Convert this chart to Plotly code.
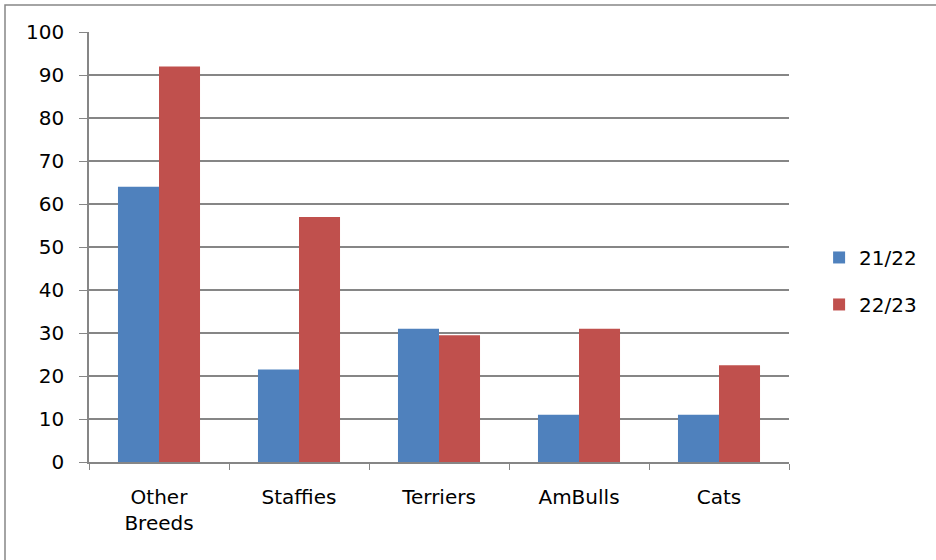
import plotly.graph_objects as go

categories = ['Other<br>Breeds', 'Staffies', 'Terriers', 'AmBulls', 'Cats']
season_2122 = [64, 21.5, 31, 11, 11]
season_2223 = [92, 57, 29.5, 31, 22.5]
y_ticks = list(range(0, 101, 10))

BLUE = '#4F81BD'
RED = '#C0504D'
GREY = '#868686'
FONT = 'DejaVu Sans, Verdana, sans-serif'

fig = go.Figure()

fig.add_trace(go.Bar(
    x=categories,
    y=season_2122,
    name='21/22',
    legendgroup='a',
    marker=dict(color=BLUE, line=dict(width=0))
))

fig.add_trace(go.Bar(
    x=categories,
    y=season_2223,
    name='22/23',
    legendgroup='b',
    marker=dict(color=RED, line=dict(width=0))
))

# outer chart frame (only left/top edges are in view)
fig.add_shape(
    type='rect', xref='paper', yref='paper',
    x0=-0.12, x1=2, y0=-2, y1=1.063,
    line=dict(color=GREY, width=1.5), layer='below'
)

fig.update_layout(
    width=936,
    height=560,
    margin=dict(l=89, r=147, t=32, b=98),
    paper_bgcolor='white',
    plot_bgcolor='white',
    barmode='group',
    bargap=0.414,
    bargroupgap=0,
    font=dict(family=FONT, size=20, color='#000000'),
    legend=dict(
        x=1.043, xanchor='left',
        y=0.421, yanchor='middle',
        traceorder='grouped',
        tracegroupgap=18,
        font=dict(size=20),
        bgcolor='rgba(0,0,0,0)'
    ),
    xaxis=dict(
        showline=True, linecolor=GREY, linewidth=1.5,
        ticks='outside', tickson='boundaries', ticklen=6, tickcolor=GREY,
        ticklabelstandoff=16,
        showgrid=False
    ),
    yaxis=dict(
        range=[0, 100],
        tickvals=y_ticks,
        showline=True, linecolor=GREY, linewidth=1.5,
        ticks='outside', ticklen=8, tickcolor=GREY,
        ticklabelstandoff=11,
        showgrid=True, gridcolor=GREY, gridwidth=1.5,
        zeroline=False
    )
)

# drop the page's default body margin so the figure sits at the window corner
fig.write_html('out.html', config={'displayModeBar': False},
               post_script="document.body.style.margin='0';")
